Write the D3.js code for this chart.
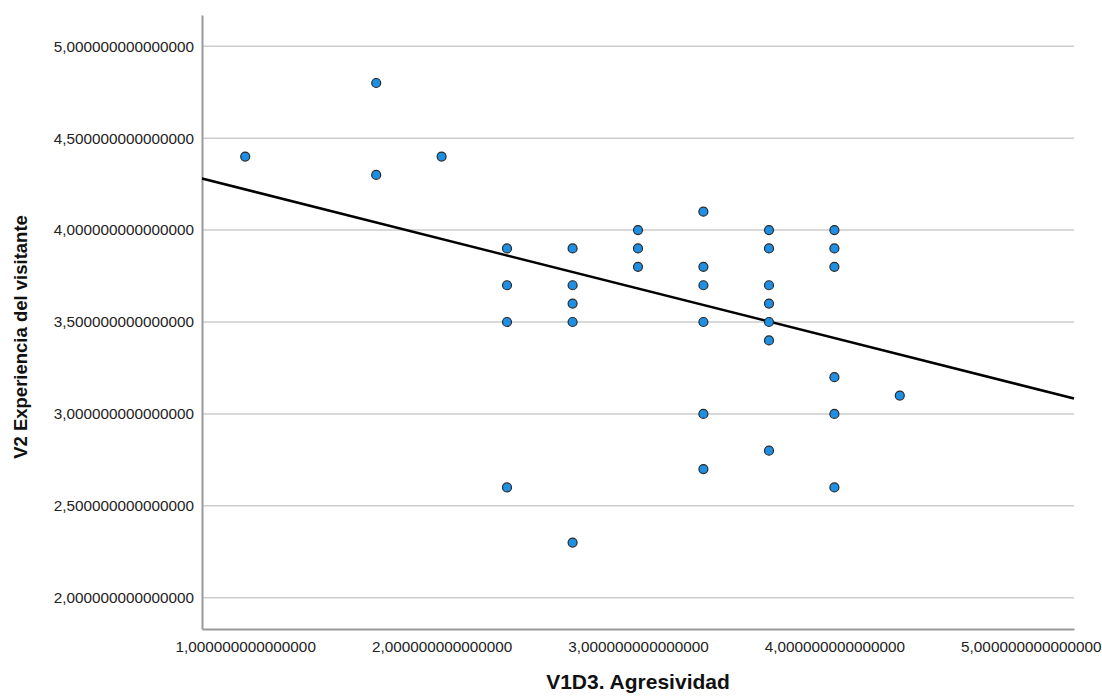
<!DOCTYPE html>
<html>
  <head>
    <meta charset="utf-8">
    <title>V1D3 vs V2</title>
    <style>
      body { margin: 0; background: #fff; }
      .tick text { font-family: "Liberation Sans", Arial, sans-serif; font-size: 15.3px; fill: #222; }
      .title { font-family: "Liberation Sans", Arial, sans-serif; font-weight: bold; fill: #111; }
    </style>
  </head>
  <body>
    <div class="chart"></div>
    <script src="https://d3js.org/d3.v7.min.js"></script>
    <script>
      // Data
      var xVals = [1.0, 1.667, 1.667, 2.0,
                   2.333, 2.333, 2.333, 2.333,
                   2.667, 2.667, 2.667, 2.667, 2.667,
                   3.0, 3.0, 3.0,
                   3.333, 3.333, 3.333, 3.333, 3.333, 3.333,
                   3.667, 3.667, 3.667, 3.667, 3.667, 3.667, 3.667,
                   4.0, 4.0, 4.0, 4.0, 4.0, 4.0,
                   4.333];
      var yVals = [4.4, 4.8, 4.3, 4.4,
                   3.9, 3.7, 3.5, 2.6,
                   3.9, 3.7, 3.6, 3.5, 2.3,
                   4.0, 3.9, 3.8,
                   4.1, 3.8, 3.7, 3.5, 3.0, 2.7,
                   4.0, 3.9, 3.7, 3.6, 3.5, 3.4, 2.8,
                   4.0, 3.9, 3.8, 3.2, 3.0, 2.6,
                   3.1];
      var xTicks = [1, 2, 3, 4, 5];
      var yTicks = [2, 2.5, 3, 3.5, 4, 4.5, 5];
      var fitIntercept = 4.491;
      var fitSlope = -0.2696;

      var width = 1102, height = 699;
      var margin = {top: 15, right: 28, bottom: 70, left: 202};
      var innerW = width - margin.left - margin.right;
      var innerH = height - margin.top - margin.bottom;

      var svg = d3.select(".chart").append("svg")
        .attr("width", width)
        .attr("height", height);

      var g = svg.append("g")
        .attr("transform", "translate(" + margin.left + "," + margin.top + ")");

      var x = d3.scaleLinear().domain([0.78, 5.22]).range([0, innerW]);
      var y = d3.scaleLinear().domain([1.83, 5.17]).range([innerH, 0]);

      var fmt = function(d) { return d3.format(".15f")(d).replace(".", ","); };

      // Horizontal grid lines
      g.selectAll(".grid")
        .data(yTicks)
        .enter().append("line")
        .attr("class", "grid")
        .attr("x1", 0)
        .attr("x2", innerW)
        .attr("y1", function(d) { return y(d); })
        .attr("y2", function(d) { return y(d); })
        .attr("stroke", "#cccccc")
        .attr("stroke-width", 1.5);

      // Axes
      var xAxis = g.append("g")
        .attr("transform", "translate(0," + innerH + ")")
        .call(d3.axisBottom(x).tickValues(xTicks).tickFormat(fmt).tickSize(0).tickPadding(12));
      var yAxis = g.append("g")
        .call(d3.axisLeft(y).tickValues(yTicks).tickFormat(fmt).tickSize(0).tickPadding(8));
      xAxis.select(".domain").attr("stroke", "#999").attr("stroke-width", 2);
      yAxis.select(".domain").attr("stroke", "#999").attr("stroke-width", 2);

      // Fit line
      var xd = x.domain();
      g.append("line")
        .attr("x1", x(xd[0]))
        .attr("x2", x(xd[1]))
        .attr("y1", y(fitIntercept + fitSlope * xd[0]))
        .attr("y2", y(fitIntercept + fitSlope * xd[1]))
        .attr("stroke", "#000")
        .attr("stroke-width", 2.5);

      // Points
      g.selectAll(".dot")
        .data(xVals)
        .enter().append("circle")
        .attr("class", "dot")
        .attr("cx", function(d) { return x(d); })
        .attr("cy", function(d, i) { return y(yVals[i]); })
        .attr("r", 4.5)
        .attr("fill", "#1f8fe3")
        .attr("stroke", "#2a2a2a")
        .attr("stroke-width", 1.2);

      // Titles
      svg.append("text")
        .attr("class", "title")
        .style("font-size", "21px")
        .attr("x", margin.left + innerW / 2)
        .attr("y", 689)
        .attr("text-anchor", "middle")
        .text("V1D3. Agresividad");
      svg.append("text")
        .attr("class", "title")
        .style("font-size", "18.5px")
        .attr("transform", "translate(27,337) rotate(-90)")
        .attr("text-anchor", "middle")
        .text("V2 Experiencia del visitante");
    </script>
  </body>
</html>
